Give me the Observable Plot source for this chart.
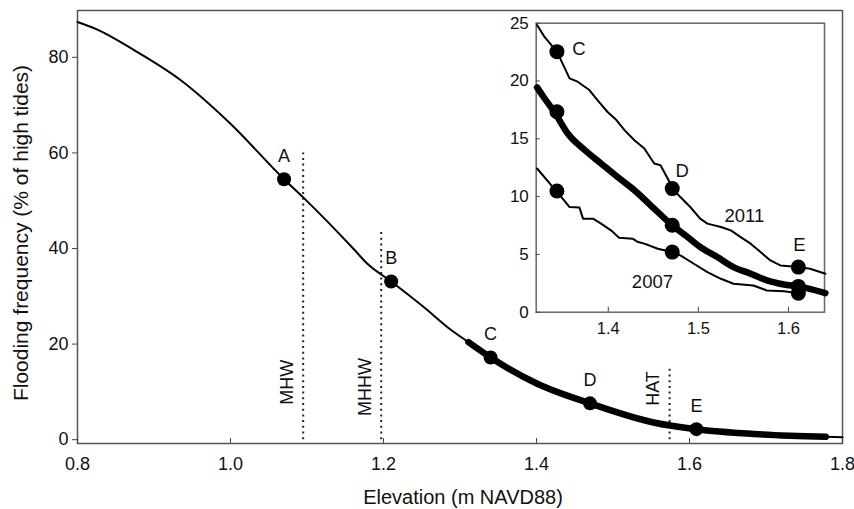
<!DOCTYPE html>
<html><head><meta charset="utf-8">
<script src="https://cdn.jsdelivr.net/npm/d3@7"></script>
<script src="https://cdn.jsdelivr.net/npm/@observablehq/plot@0.6"></script>
<style>
body{margin:0;background:#fff}
#wrap{position:relative;width:854px;height:509px}
#inset{position:absolute;left:490px;top:0}
</style>
</head><body><div id="wrap"><div id="main"></div><div id="inset"></div></div>
<script>
// ---- main chart data ----
const mainElev = [0.800,0.826,0.874,0.935,1.000,1.070,1.095,1.161,1.179,1.210,1.253,1.288,1.311,1.340,1.401,1.470,1.553,1.609,1.684,1.778,1.800];
const mainFreq = [87.4,85.8,81.5,75.2,66.1,54.5,50.7,39.9,36.8,33.1,27.7,23.0,20.4,17.2,11.7,7.6,3.6,2.2,1.2,0.6,0.5];
const thickRange = [1.311, 1.778];
const siteLabels = ["A","B","C","D","E"];
const siteElev = [1.07,1.21,1.34,1.47,1.609];
const siteFreq = [54.5,33.1,17.2,7.6,2.2];
const datumNames = ["MHW","MHHW","HAT"];
const datumElev = [1.095,1.197,1.574];
const datumTop = [60,44,14.8];
const datumLabelY = [12.0,11.0,10.7];
const mainXTicks = [0.8,1.0,1.2,1.4,1.6,1.8];
const mainYTicks = [0,20,40,60,80];

// ---- inset data ----
const y2011Elev = [1.321,1.329,1.343,1.350,1.357,1.366,1.379,1.388,1.399,1.409,1.418,1.429,1.440,1.451,1.458,1.468,1.471,1.480,1.491,1.502,1.510,1.525,1.536,1.547,1.558,1.569,1.580,1.591,1.611,1.624,1.641];
const y2011Freq = [24.85,23.84,22.54,21.39,20.23,19.94,19.22,18.35,17.34,16.62,15.75,14.88,14.16,12.86,12.72,11.27,10.69,9.97,9.10,8.09,7.66,7.37,7.08,6.50,5.93,5.20,4.48,4.05,3.90,3.76,3.33];
const meanElev = [1.321,1.328,1.340,1.355,1.374,1.392,1.410,1.429,1.447,1.471,1.488,1.502,1.521,1.539,1.558,1.576,1.595,1.611,1.641];
const meanFreq = [19.45,18.64,17.34,15.46,14.02,12.86,11.71,10.55,9.25,7.52,6.50,5.64,4.77,3.90,3.33,2.75,2.40,2.23,1.65];
const y2007Elev = [1.321,1.342,1.351,1.357,1.368,1.372,1.383,1.392,1.403,1.412,1.427,1.433,1.440,1.455,1.471,1.480,1.495,1.510,1.525,1.539,1.561,1.576,1.595,1.611];
const y2007Freq = [12.43,10.49,9.68,9.10,9.05,8.09,8.09,7.66,7.08,6.45,6.36,6.07,5.93,5.49,5.20,4.92,4.19,3.47,2.89,2.46,2.31,1.88,1.82,1.65];
const insetSiteLabels = ["C","D","E"];
const insetSiteElev = [1.343,1.471,1.611];
const inset2011Freq = [22.54,10.69,3.90];
const insetMeanFreq = [17.34,7.52,2.23];
const inset2007Freq = [10.49,5.20,1.65];
const yearNames = ["2011","2007"];
const yearLabelElev = [1.551,1.449];
const yearLabelFreq = [8.3,2.6];
const insetXTicks = [1.4,1.5,1.6];
const insetYTicks = [0,5,10,15,20,25];

const font = "'Liberation Sans', Arial, Helvetica, sans-serif";
const zip = (xs, ys, extra = {}) => xs.map((x, i) => ({x, y: ys[i], ...Object.fromEntries(Object.entries(extra).map(([k, v]) => [k, v[i]]))}));

const mainLine = zip(mainElev, mainFreq);
const thickLine = mainLine.filter(d => d.x >= thickRange[0] && d.x <= thickRange[1]);
const sites = zip(siteElev, siteFreq, {label: siteLabels});
const datums = zip(datumElev, datumTop, {name: datumNames, ly: datumLabelY});

const main = Plot.plot({
  width: 854, height: 509,
  marginLeft: 77, marginRight: 12, marginTop: 10, marginBottom: 66,
  style: {fontFamily: font, fontSize: "18px", color: "#111", background: "transparent"},
  x: {domain: [0.8, 1.8]},
  y: {domain: [-0.8, 89.8]},
  marks: [
    Plot.frame({stroke: "#555", strokeWidth: 1.5}),
    Plot.axisY({ticks: mainYTicks, tickSize: 5, tickPadding: 4, label: null, tickFormat: d => String(d), fontSize: 18, stroke: "#444"}),
    Plot.axisX({ticks: mainXTicks, tickSize: -5, tickPadding: 18.5, label: null, tickFormat: d3.format(".1f"), fontSize: 18, stroke: "#444"}),
    Plot.ruleX(datums, {x: "x", y1: 0, y2: "y", stroke: "#222", strokeWidth: 2, strokeDasharray: "2,3.7"}),
    Plot.text(datums, {x: "x", y: "ly", text: "name", rotate: -90, dx: -16, fontSize: 18, fill: "#111"}),
    Plot.line(mainLine, {x: "x", y: "y", curve: "monotone-x", stroke: "#000", strokeWidth: 2}),
    Plot.line(thickLine, {x: "x", y: "y", curve: "monotone-x", stroke: "#000", strokeWidth: 6.5, strokeLinecap: "round"}),
    Plot.dot(sites, {x: "x", y: "y", r: 7, fill: "#000"}),
    Plot.text(sites, {x: "x", y: "y", text: "label", dy: -23, fontSize: 18, fill: "#111"}),
    Plot.text(["Elevation (m NAVD88)"], {frameAnchor: "bottom", dy: 54.5, dx: 3, textAnchor: "middle", lineAnchor: "middle", fontSize: 20, fill: "#111"}),
    Plot.text(["Flooding frequency (% of high tides)"], {frameAnchor: "left", dx: -56, dy: 6, rotate: -90, textAnchor: "middle", lineAnchor: "middle", fontSize: 21, fill: "#111"})
  ]
});
document.getElementById("main").appendChild(main);

const l2011 = zip(y2011Elev, y2011Freq);
const lMean = zip(meanElev, meanFreq);
const l2007 = zip(y2007Elev, y2007Freq);
const insetPts = [
  ...zip(insetSiteElev, inset2011Freq),
  ...zip(insetSiteElev, insetMeanFreq),
  ...zip(insetSiteElev, inset2007Freq)
];
const insetLab = zip(insetSiteElev, inset2011Freq, {label: insetSiteLabels});
const yearLab = zip(yearLabelElev, yearLabelFreq, {label: yearNames});

const inset = Plot.plot({
  width: 354, height: 345,
  marginLeft: 45.7, marginRight: 20, marginTop: 22.7, marginBottom: 33.3,
  style: {fontFamily: font, fontSize: "16px", color: "#111", background: "transparent"},
  x: {domain: [1.32, 1.64]},
  y: {domain: [0, 25]},
  marks: [
    Plot.frame({stroke: "#666", strokeWidth: 1.5}),
    Plot.axisY({ticks: insetYTicks, tickSize: -4, tickPadding: 11.4, label: null, fontSize: 17, stroke: "#444"}),
    Plot.axisX({ticks: insetXTicks, tickSize: -5, tickPadding: 15, label: null, tickFormat: d3.format(".1f"), fontSize: 16.5, stroke: "#444"}),
    Plot.line(l2011, {x: "x", y: "y", stroke: "#000", strokeWidth: 2}),
    Plot.line(l2007, {x: "x", y: "y", stroke: "#000", strokeWidth: 2}),
    Plot.line(lMean, {x: "x", y: "y", curve: "monotone-x", stroke: "#000", strokeWidth: 6.5, strokeLinecap: "round"}),
    Plot.dot(insetPts, {x: "x", y: "y", r: 7.5, fill: "#000"}),
    Plot.text(insetLab.slice(0, 1), {x: "x", y: "y", text: "label", dx: 22, dy: -3, fontSize: 18.5, fill: "#111"}),
    Plot.text(insetLab.slice(1, 2), {x: "x", y: "y", text: "label", dx: 10, dy: -18, fontSize: 18.5, fill: "#111"}),
    Plot.text(insetLab.slice(2, 3), {x: "x", y: "y", text: "label", dx: 1, dy: -22, fontSize: 18.5, fill: "#111"}),
    Plot.text(yearLab, {x: "x", y: "y", text: "label", fontSize: 18.5, fill: "#111"})
  ]
});
document.getElementById("inset").appendChild(inset);
</script></body></html>
